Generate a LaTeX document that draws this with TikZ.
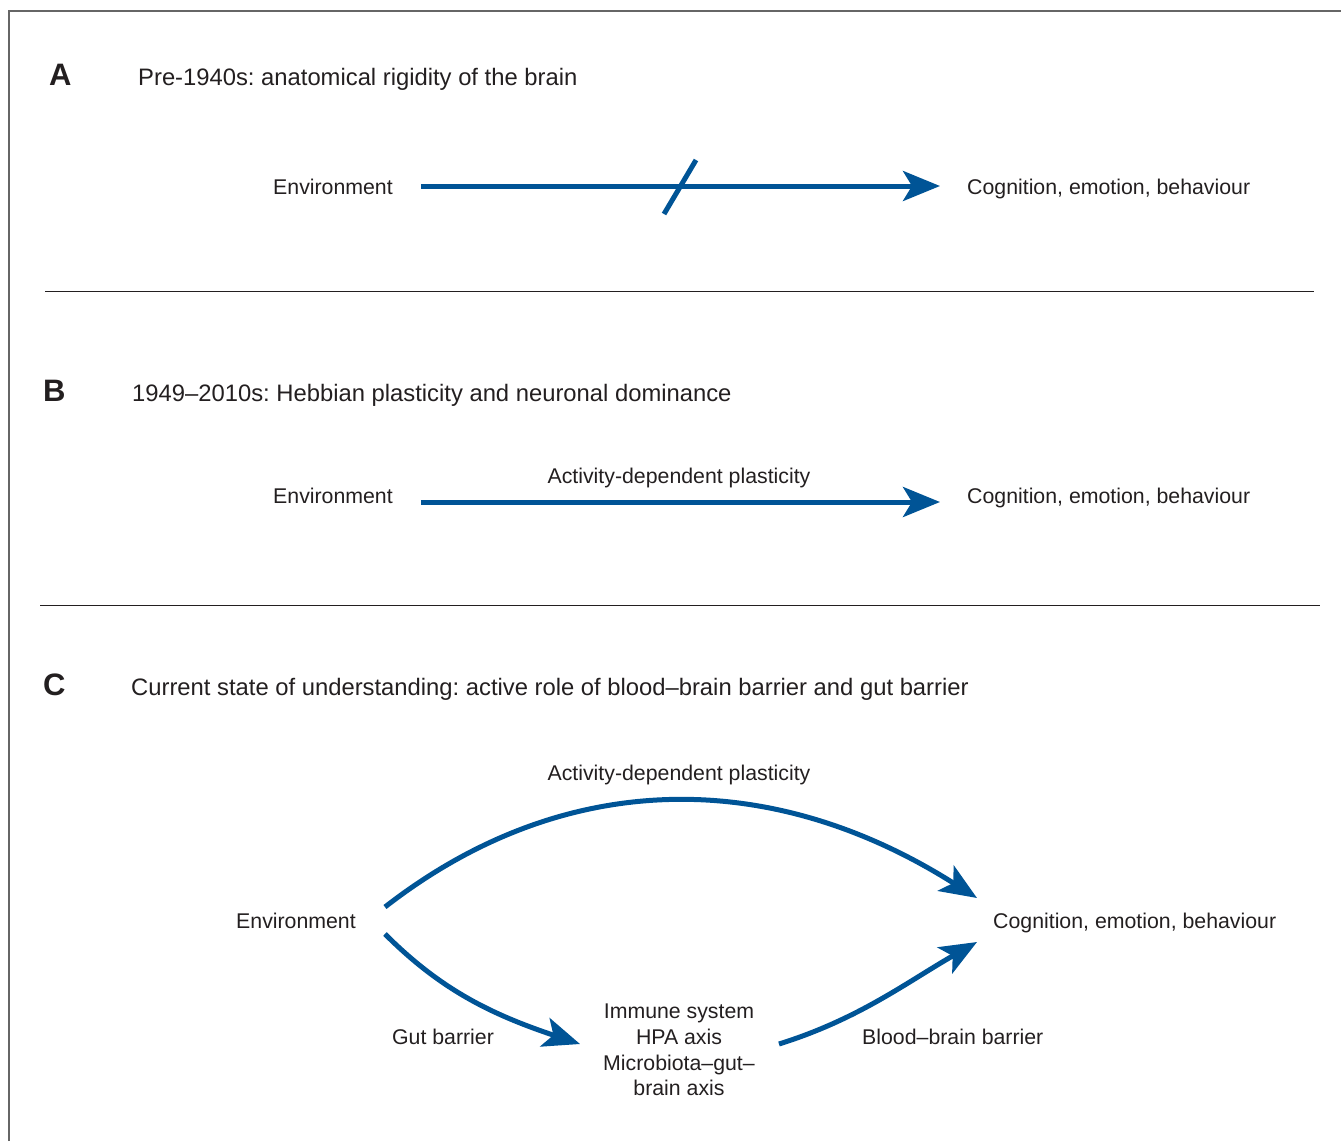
\documentclass[tikz,border=0pt]{standalone}
\usepackage{fontspec}
\setmainfont{Liberation Sans}
\usetikzlibrary{arrows.meta}
\definecolor{arrblue}{RGB}{0,84,150}
\definecolor{txt}{RGB}{35,31,32}
\frenchspacing
\begin{document}
\begin{tikzpicture}[x=1pt,y=-1pt,
 lbl/.style={inner sep=0pt, text=txt, font=\fontsize{21.3}{25}\selectfont, text height=15pt, text depth=0pt},
 ttl/.style={inner sep=0pt, text=txt, font=\fontsize{23.8}{28}\selectfont, anchor=base west},
 letter/.style={inner sep=0pt, text=txt, font=\fontsize{31}{36}\selectfont\bfseries, anchor=base west},
 arr/.style={draw=arrblue, line width=5pt, -{Stealth[length=37pt,width=30pt,inset=9pt]}},
 sepline/.style={draw=txt, line width=1pt}]
\useasboundingbox (0,0) rectangle (1341,1141);
\draw[line width=2.5pt, draw=black!60] (9,1141) -- (9,11) -- (1341,11);
% dividers
\draw[sepline] (45,291) -- (1314,291);
\draw[sepline] (40,605) -- (1320,605);
% Panel A
\node[letter] (lA) at (49,85) {A};
\node[ttl] (tA) at (138,85) {Pre-1940s: anatomical rigidity of the brain};
\node[lbl, anchor=west] (envA) at (273,187) {Environment};
\node[lbl, anchor=west] (cogA) at (967,187) {Cognition, emotion, behaviour};
\draw[arr] ([xshift=28pt,yshift=1pt]envA.east) -- ([xshift=-27pt,yshift=1pt]cogA.west);
\draw[draw=arrblue, line width=5pt] (664,214) -- (696,160);
% Panel B
\node[letter] (lB) at (43,401) {B};
\node[ttl] (tB) at (132,401) {1949--2010s: Hebbian plasticity and neuronal dominance};
\node[lbl, anchor=west] (envB) at (273,496) {Environment};
\node[lbl, anchor=west] (cogB) at (967,496) {Cognition, emotion, behaviour};
\node[lbl] (plB) at (679,476) {Activity-dependent plasticity};
\draw[arr] ([xshift=28pt,yshift=-6pt]envB.east) -- ([xshift=-27pt,yshift=-6pt]cogB.west);
% Panel C
\node[letter] (lC) at (43,695) {C};
\node[ttl] (tC) at (131,695) {Current state of understanding: active role of blood--brain barrier and gut barrier};
\node[lbl] (plC) at (679,773) {Activity-dependent plasticity};
\node[lbl, anchor=west] (envC) at (236,921) {Environment};
\node[lbl, anchor=west] (cogC) at (993,921) {Cognition, emotion, behaviour};
\node[inner sep=0pt, text=txt, font=\fontsize{21.3}{25.7}\selectfont, align=center] (mid) at (679,1050)
  {Immune system\\HPA axis\\Microbiota--gut--\\brain axis};
\node[lbl] (gut) at (443,1037) {Gut barrier};
\node[lbl, anchor=west] (bbb) at (862,1037) {Blood--brain barrier};
\draw[arr] ([xshift=29pt,yshift=14pt]envC.east) .. controls +(180,-140) and +(-205,-130) .. ([xshift=-16pt,yshift=23pt]cogC.west);
\draw[arr] ([xshift=29pt,yshift=-13pt]envC.east) .. controls +(55,55) and +(-90,-30) .. ([xshift=-23pt,yshift=6pt]mid.west);
\draw[arr] ([xshift=24pt,yshift=6pt]mid.east) .. controls +(80,-25) and +(-70,40) .. ([xshift=-16pt,yshift=-21pt]cogC.west);
\end{tikzpicture}
\end{document}
